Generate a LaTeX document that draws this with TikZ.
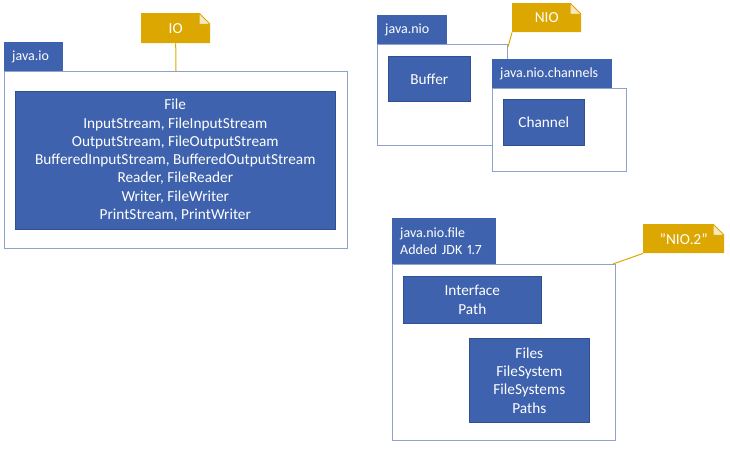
\documentclass[tikz,border=0pt]{standalone}
\usepackage{fontspec}
\setmainfont{Carlito}[Numbers=Proportional]
\usepackage{tikz}
\usetikzlibrary{positioning,calc}
\definecolor{pkgblue}{RGB}{62,98,173}
\definecolor{pkgline}{RGB}{143,162,204}
\definecolor{clsline}{RGB}{47,82,143}
\definecolor{notegold}{RGB}{220,167,0}
\definecolor{notefold}{RGB}{246,232,190}
\begin{document}
\begin{tikzpicture}[x=1pt,y=-1pt,
  every node/.append style={anchor=north west,inner sep=0pt,font=\fontsize{15.3}{18.3}\selectfont},
  tab/.style={fill=pkgblue,draw=pkgblue,text=white,align=left,inner xsep=8pt,
    font=\fontsize{14}{16.7}\selectfont},
  body/.style={fill=white,draw=pkgline,line width=1pt},
  cls/.style={fill=pkgblue,draw=clsline,line width=0.6pt,text=white,align=center},
  note/.style={text=white,align=center,path picture={
    \fill[notegold] (path picture bounding box.north west)
      -- ([xshift=-11pt]path picture bounding box.north east)
      -- ([yshift=-11pt]path picture bounding box.north east)
      -- (path picture bounding box.south east)
      -- (path picture bounding box.south west) -- cycle;
    \filldraw[fill=notefold,draw=notegold,line width=0.8pt]
      ([xshift=-11pt]path picture bounding box.north east)
      -- ([xshift=-11pt,yshift=-11pt]path picture bounding box.north east)
      -- ([yshift=-11pt]path picture bounding box.north east) -- cycle;}}]
  \tikzstyle{link} = [draw=notegold,line width=1pt]
  \useasboundingbox (0,0) rectangle (730,451);
  % java.io
  \node (io_note) [note,minimum width=69pt,minimum height=30pt] at (141,13) {IO};
  \node (io_tab) [tab,text width=42pt,minimum height=29pt] at (4,42) {java.io};
  \node (io_body) [body,minimum width=343pt,minimum height=177pt] at (4,71) {};
  \node (io_cls) [cls,minimum width=320pt,minimum height=138pt] at (15,91)
    {File\\InputStream, FileInputStream\\OutputStream, FileOutputStream\\
     BufferedInputStream, BufferedOutputStream\\Reader, FileReader\\
     Writer, FileWriter\\PrintStream, PrintWriter};
  \draw[link] (io_note.south) -- (io_body.north);
  % java.nio
  \node (nio_note) [note,minimum width=69pt,minimum height=29pt] at (512,3) {NIO};
  \node (nio_tab) [tab,text width=53pt,minimum height=29pt] at (377,15) {java.nio};
  \node (nio_body) [body,minimum width=130pt,minimum height=101pt] at (377,44) {};
  \node (buffer) [cls,minimum width=82pt,minimum height=45pt] at (388,56) {Buffer};
  \draw[link] (nio_note.south west) -- ([yshift=-3pt]nio_body.north east);
  % java.nio.channels
  \node (ch_tab) [tab,text width=103pt,minimum height=29pt] at (492,59) {java.nio.channels};
  \node (ch_body) [body,minimum width=134pt,minimum height=83pt] at (492,88) {};
  \node (channel) [cls,minimum width=81pt,minimum height=46pt] at (503,99) {Channel};
  % java.nio.file
  \node (nio2_note) [note,minimum width=81pt,minimum height=29pt] at (643,224) {"NIO.2"};
  \node (file_tab) [tab,text width=87pt,minimum height=46pt] at (392,218)
    {java.nio.file\\Added JDK 1.7};
  \node (file_body) [body,minimum width=223pt,minimum height=176pt] at (392,264) {};
  \node (iface) [cls,minimum width=138pt,minimum height=47pt] at (403,276) {Interface\\Path};
  \node (files) [cls,minimum width=120pt,minimum height=84pt] at (469,338)
    {Files\\FileSystem\\FileSystems\\Paths};
  \draw[link] (nio2_note.south west) -- ([xshift=-3pt]file_body.north east);
\end{tikzpicture}
\end{document}
